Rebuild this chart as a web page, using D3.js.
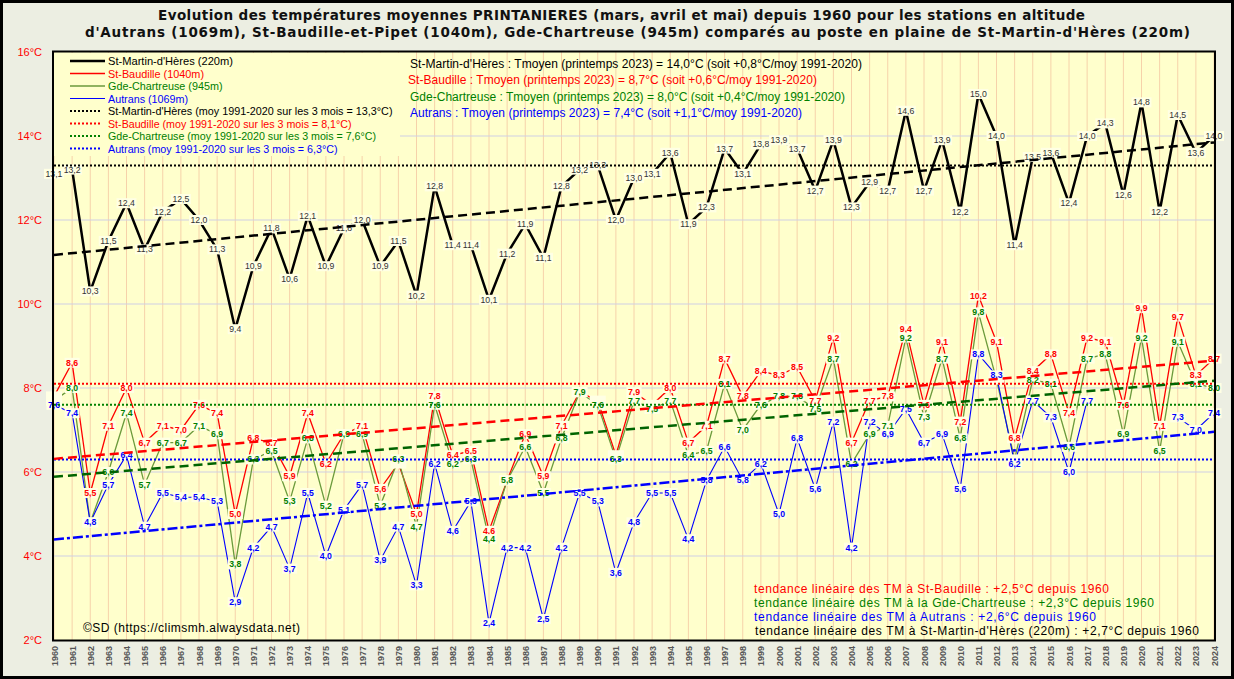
<!DOCTYPE html>
<html><head><meta charset="utf-8">
<script src="https://cdn.jsdelivr.net/npm/d3@7"></script>
<style>body{margin:0;background:#fff}svg{display:block}</style>
</head><body>
<svg id="c" width="1234" height="679"></svg>
<script>
// ---------- DATA ----------
const years = [1960,1961,1962,1963,1964,1965,1966,1967,1968,1969,
  1970,1971,1972,1973,1974,1975,1976,1977,1978,1979,
  1980,1981,1982,1983,1984,1985,1986,1987,1988,1989,
  1990,1991,1992,1993,1994,1995,1996,1997,1998,1999,
  2000,2001,2002,2003,2004,2005,2006,2007,2008,2009,
  2010,2011,2012,2013,2014,2015,2016,2017,2018,2019,
  2020,2021,2022,2023,2024];
const stMartin = [13.1,13.2,10.3,11.5,12.4,11.3,12.2,12.5,12.0,11.3,
  9.4,10.9,11.8,10.6,12.1,10.9,11.8,12.0,10.9,11.5,
  10.2,12.8,11.4,11.4,10.1,11.2,11.9,11.1,12.8,13.2,
  13.3,12.0,13.0,13.1,13.6,11.9,12.3,13.7,13.1,13.8,
  13.9,13.7,12.7,13.9,12.3,12.9,12.7,14.6,12.7,13.9,
  12.2,15.0,14.0,11.4,13.5,13.6,12.4,14.0,14.3,12.6,
  14.8,12.2,14.5,13.6,14.0];
const stBaudille = [7.8,8.6,5.5,7.1,8.0,6.7,7.1,7.0,7.6,7.4,
  5.0,6.8,6.7,5.9,7.4,6.2,6.9,7.1,5.6,6.2,
  5.0,7.8,6.4,6.5,4.6,5.8,6.9,5.9,7.1,7.9,
  7.7,6.4,7.9,7.6,8.0,6.7,7.1,8.7,7.8,8.4,
  8.3,8.5,7.7,9.2,6.7,7.7,7.8,9.4,7.6,9.1,
  7.2,10.2,9.1,6.8,8.4,8.8,7.4,9.2,9.1,7.6,
  9.9,7.1,9.7,8.3,8.7];
const chartreuse = [7.7,8.0,4.8,6.0,7.4,5.7,6.7,6.7,7.1,6.9,
  3.8,6.3,6.5,5.3,6.8,5.2,6.9,6.9,5.2,6.3,
  4.7,7.6,6.2,6.3,4.4,5.8,6.6,5.5,6.8,7.9,
  7.6,6.3,7.7,7.5,7.7,6.4,6.5,8.1,7.0,7.6,
  7.8,7.8,7.5,8.7,6.2,6.9,7.1,9.2,7.3,8.7,
  6.8,9.8,8.2,6.3,8.2,8.1,6.6,8.7,8.8,6.9,
  9.2,6.5,9.1,8.1,8.0];
const autrans = [7.6,7.4,4.8,5.7,6.4,4.7,5.5,5.4,5.4,5.3,
  2.9,4.2,4.7,3.7,5.5,4.0,5.1,5.7,3.9,4.7,
  3.3,6.2,4.6,5.3,2.4,4.2,4.2,2.5,4.2,5.5,
  5.3,3.6,4.8,5.5,5.5,4.4,5.8,6.6,5.8,6.2,
  5.0,6.8,5.6,7.2,4.2,7.2,6.9,7.5,6.7,6.9,
  5.6,8.8,8.3,6.2,7.7,7.3,6.0,7.7,null,null,
  null,null,7.3,7.0,7.4];
const normals = [13.3, 8.1, 7.6, 6.3];   // moy 1991-2020 (St-Martin, St-Baudille, Chartreuse, Autrans)
const yTicks = [2,4,6,8,10,12,14,16];

const seriesNames = ["St-Martin-d'Hères (220m)","St-Baudille (1040m)","Gde-Chartreuse (945m)","Autrans (1069m)"];
const normalNames = ["St-Martin-d'Hères (moy 1991-2020 sur les 3 mois = 13,3°C)",
  "St-Baudille (moy 1991-2020 sur les 3 mois = 8,1°C)",
  "Gde-Chartreuse (moy 1991-2020 sur les 3 mois = 7,6°C)",
  "Autrans (moy 1991-2020 sur les 3 mois = 6,3°C)"];
const infoLines = ["St-Martin-d'Hères : Tmoyen (printemps 2023) = 14,0°C (soit +0,8°C/moy 1991-2020)",
  "St-Baudille : Tmoyen (printemps 2023) = 8,7°C (soit +0,6°C/moy 1991-2020)",
  "Gde-Chartreuse : Tmoyen (printemps 2023) = 8,0°C (soit +0,4°C/moy 1991-2020)",
  "Autrans : Tmoyen (printemps 2023) = 7,4°C (soit +1,1°C/moy 1991-2020)"];
const trendLines = ["tendance linéaire des TM à St-Baudille : +2,5°C depuis 1960",
  "tendance linéaire des TM à la Gde-Chartreuse  : +2,3°C depuis 1960",
  "tendance linéaire des TM  à Autrans : +2,6°C depuis 1960",
  "tendance linéaire des TM  à St-Martin-d'Hères  (220m) : +2,7°C depuis 1960"];
const titleLines = ["Evolution des températures moyennes PRINTANIERES (mars, avril et mai) depuis 1960 pour les stations en altitude",
  "d'Autrans (1069m), St-Baudille-et-Pipet  (1040m), Gde-Chartreuse (945m) comparés au poste en plaine de St-Martin-d'Hères (220m)"];

// ---------- STYLES ----------
const W = 1234, H = 679;
const FONT = "'Liberation Sans', Arial, sans-serif";
const styles = [
  {line:"#000000", w:2.5, lab:"#333333", bold:false, trend:"#000000", dash:"9,5", txt:"#000000", norm:"#000000"},
  {line:"#FF0000", w:1.3, lab:"#FF0000", bold:true, trend:"#FF0000", dash:"9,5", txt:"#FF0000", norm:"#FF0000"},
  {line:"#6B9A3C", w:1.3, lab:"#008000", bold:true, trend:"#006400", dash:"9,5", txt:"#008000", norm:"#008000"},
  {line:"#0000FF", w:1.1, lab:"#0000FF", bold:true, trend:"#0000FF", dash:"10,3,3,3", txt:"#0000FF", norm:"#0000FF"}
];
const allSeries = [stMartin, stBaudille, chartreuse, autrans];

const x = d3.scaleLinear().domain([1960, 2024]).range([54, 1214]);
const y = d3.scaleLinear().domain([2, 16]).range([640, 52]);

const svg = d3.select("#c");
svg.append("rect").attr("width", W).attr("height", H).attr("fill", "#ECEEE2");
svg.append("rect").attr("x", 1.5).attr("y", 1.5).attr("width", W-3).attr("height", H-3)
  .attr("fill", "none").attr("stroke", "#000").attr("stroke-width", 3);

// title
const titleX = [621.5, 637.5], titleW = [927, 1105], titleY = [19.5, 37];
titleLines.forEach((t,i)=>{
  svg.append("text").attr("x", titleX[i]).attr("y", titleY[i]).attr("text-anchor","middle")
    .attr("font-family","'DejaVu Sans', Verdana, sans-serif").attr("font-weight","bold").attr("font-size","13.5px")
    .attr("fill","#111").attr("textLength", titleW[i]).attr("lengthAdjust","spacing").text(t);
});

// plot background
svg.append("rect").attr("x", 53).attr("y", 52).attr("width", 1162).attr("height", 588).attr("fill", "#FFFFCC");

// grid
const grid = svg.append("g");
grid.selectAll(".vg").data(years).join("line")
  .attr("x1", d=>x(d)).attr("x2", d=>x(d)).attr("y1", y(16)).attr("y2", y(2))
  .attr("stroke", "#F6D2AA").attr("stroke-width", 1);
grid.selectAll(".hg").data(yTicks.filter(d=>d>2 && d<16)).join("line")
  .attr("x1", 53).attr("x2", 1215).attr("y1", d=>y(d)).attr("y2", d=>y(d))
  .attr("stroke", "#CFCFE4").attr("stroke-width", 1);

// legend background
svg.append("rect").attr("x", 54).attr("y", 53).attr("width", 346).attr("height", 103).attr("fill", "#FFFFCC");

// y labels
svg.selectAll(".yl").data(yTicks).join("text")
  .attr("x", 42).attr("y", d=>y(d)+4).attr("text-anchor","end")
  .attr("font-family", FONT).attr("font-size","11px").attr("fill","#FF0000")
  .text(d=>d+"°C");

// x labels
svg.selectAll(".xl").data(years).join("text")
  .attr("transform", d=>`translate(${x(d)+3.5},646) rotate(-90)`).attr("text-anchor","end")
  .attr("font-family", FONT).attr("font-weight","bold").attr("font-size","9px").attr("fill","#555")
  .text(d=>d);

// series lines
const lineGen = (arr) => d3.line().defined((d,i)=>arr[i]!=null).x((d,i)=>x(years[i])).y((d,i)=>y(arr[i]))(arr);
const linesG = svg.append("g");
allSeries.forEach((arr,k)=>{
  linesG.append("path").attr("d", lineGen(arr)).attr("fill","none")
    .attr("stroke", styles[k].line).attr("stroke-width", styles[k].w).attr("stroke-linejoin","miter");
});

// data labels (a label lying fully under a later series' label is hidden, as in the source)
const fmt = v => d3.format(".1f")(v).replace(".", ",");
const labG = svg.append("g");
allSeries.forEach((arr,k)=>{
  const sg = labG.append("g");
  arr.forEach((v,i)=>{
    if (v==null) return;
    let covered = false;
    for (let j=k+1; j<allSeries.length; j++){
      const o = allSeries[j][i];
      if (k>0 && o!=null && Math.abs(y(o)-y(v)) < 6.5) covered = true;
    }
    const gi = sg.append("g");
    const r = gi.append("rect");
    if (covered){
      r.attr("x", x(years[i]) - 8).attr("y", y(v) - 5).attr("width", 16).attr("height", 10).attr("fill","#FFFFE4");
      return;
    }
    const t = gi.append("text").attr("x", x(years[i])).attr("y", y(v)+3)
      .attr("text-anchor","middle").attr("font-family", FONT).attr("font-size","8.7px")
      .attr("font-weight", styles[k].bold ? "bold":"normal").attr("fill", styles[k].lab).text(fmt(v));
    const w = t.node().getComputedTextLength();
    r.attr("x", x(years[i]) - w/2 - 1.5).attr("y", y(v) - 5).attr("width", w+3).attr("height", 10).attr("fill","#FFFFE4");
  });
});

// normal (average) dotted lines
const normG = svg.append("g");
normals.forEach((v,k)=>{
  normG.append("line").attr("x1", x(1960)).attr("x2", x(2024)).attr("y1", y(v)).attr("y2", y(v))
    .attr("stroke", styles[k].norm).attr("stroke-width", 2).attr("stroke-dasharray","2,2");
});

// linear trends (least squares)
function regress(arr){
  const pts = arr.map((v,i)=>[years[i], v]).filter(p=>p[1]!=null);
  const mx = d3.mean(pts, p=>p[0]), my = d3.mean(pts, p=>p[1]);
  const b = d3.sum(pts, p=>(p[0]-mx)*(p[1]-my)) / d3.sum(pts, p=>(p[0]-mx)*(p[0]-mx));
  return yr => my + b*(yr-mx);
}
const trendG = svg.append("g");
allSeries.forEach((arr,k)=>{
  const f = regress(arr);
  trendG.append("line").attr("x1", x(1960)).attr("x2", x(2024)).attr("y1", y(f(1960))).attr("y2", y(f(2024)))
    .attr("stroke", styles[k].trend).attr("stroke-width", 2.5).attr("stroke-dasharray", styles[k].dash);
});

// frame
svg.append("rect").attr("x", 53).attr("y", 51.5).attr("width", 1162).attr("height", 589)
  .attr("fill","none").attr("stroke","#000").attr("stroke-width", 2);

// legend
const legY = [61, 73.5, 86, 98.5, 111, 123.5, 136, 148.5];
const legW = [125, 96, 114.5, 80, 284.5, 243.5, 268, 229.5];
const legG = svg.append("g");
for (let r=0; r<8; r++){
  const k = r % 4, dotted = r >= 4;
  legG.append("line").attr("x1", 70).attr("x2", dotted ? 102 : 105).attr("y1", legY[r]).attr("y2", legY[r])
    .attr("stroke", dotted ? styles[k].norm : styles[k].line)
    .attr("stroke-width", dotted ? 2 : styles[k].w)
    .attr("stroke-dasharray", dotted ? "2,2" : null);
  legG.append("text").attr("x", 108).attr("y", legY[r]+4)
    .attr("font-family", FONT).attr("font-size","11px").attr("fill", styles[k].txt)
    .attr("textLength", legW[r]).attr("lengthAdjust","spacingAndGlyphs")
    .text(dotted ? normalNames[k] : seriesNames[k]);
}

// info box
const infoY = [67.5, 84, 100.5, 116.5], infoX = [410, 408, 410, 410], infoW = [452, 409, 435, 392];
infoLines.forEach((t,k)=>{
  svg.append("text").attr("x", infoX[k]).attr("y", infoY[k]).attr("font-family", FONT).attr("font-size","12px")
    .attr("fill", styles[k].txt).attr("textLength", infoW[k]).attr("lengthAdjust","spacing").text(t);
});

// trend text (bottom right)
const trY = [592.5, 607, 620.5, 635], trX = [754, 754, 754, 755], trW = [355, 400, 342, 444];
const trCol = ["#FF0000", "#008000", "#0000FF", "#000000"];
trendLines.forEach((t,k)=>{
  svg.append("text").attr("x", trX[k]).attr("y", trY[k]).attr("font-family", FONT).attr("font-size","12px")
    .attr("fill", trCol[k]).attr("textLength", trW[k]).attr("lengthAdjust","spacing").text(t);
});

// copyright
svg.append("text").attr("x", 83).attr("y", 632).attr("font-family", FONT).attr("font-size","12px")
  .attr("fill","#000").attr("textLength", 217).attr("lengthAdjust","spacing").text("©SD (https://climsmh.alwaysdata.net)");
</script>
</body></html>
